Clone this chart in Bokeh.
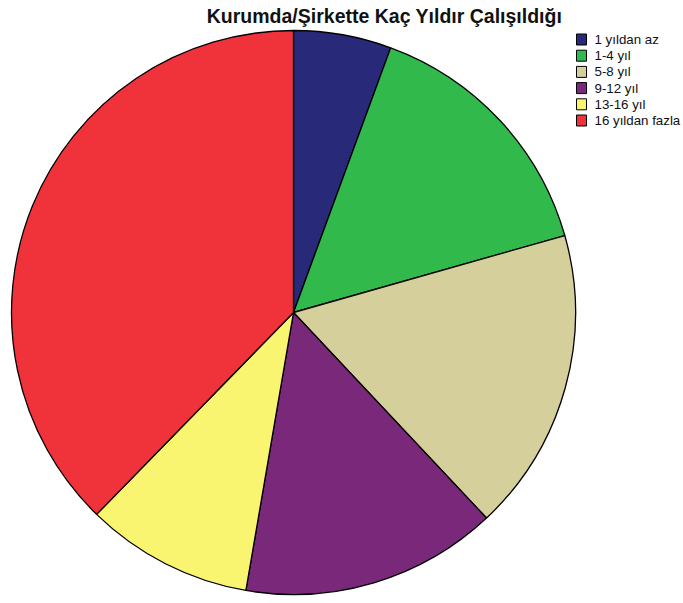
import math
from bokeh.plotting import figure
from bokeh.models import Range1d, ColumnDataSource
from bokeh.core.properties import value
from bokeh.embed import file_html
from bokeh.resources import INLINE

title = "Kurumda/Şirkette Kaç Yıldır Çalışıldığı"
categories = ["1 yıldan az", "1-4 yıl", "5-8 yıl", "9-12 yıl", "13-16 yıl", "16 yıldan fazla"]
percents = [5.6, 15.0, 17.4, 14.7, 9.6, 37.7]
colors = ["#29297a", "#31b94b", "#d4cf9b", "#7a287a", "#faf570", "#f0323a"]

W, H = 683, 603
cx, cy, R = 293, H - 312, 282

total = sum(percents)
starts, ends = [], []
acc = 0.0
for v in percents:
    a0 = acc / total * 2 * math.pi
    acc += v
    a1 = acc / total * 2 * math.pi
    starts.append(math.pi / 2 - a0)
    ends.append(math.pi / 2 - a1)

src = ColumnDataSource(dict(cat=categories, pct=percents, color=colors,
                            start=starts, end=ends))

p = figure(width=W, height=H, output_backend="svg", toolbar_location=None,
           x_range=Range1d(0, W), y_range=Range1d(0, H), min_border=0)
p.axis.visible = False
p.grid.visible = False
p.outline_line_color = None
p.background_fill_color = "white"

p.wedge(x=cx, y=cy, radius=R, start_angle="start", end_angle="end",
        direction="clock", fill_color="color", line_color="black",
        line_width=1.3, source=src)

p.text(x=[384], y=[H - 15], text=[title], text_font=value("Liberation Sans"),
       text_font_style="bold", text_font_size="19.5px", text_align="center",
       text_baseline="middle", text_color="#111111")

n = len(categories)
ly = [H - (39 + 16.2 * i) for i in range(n)]
p.rect(x=[581] * n, y=ly, width=10, height=11, fill_color=colors,
       line_color="black", line_width=1)
p.text(x=[594] * n, y=ly, text=categories, text_font=value("Liberation Sans"),
       text_font_size="13.3px", text_baseline="middle", text_color="#111111")

open("out.html", "w").write(file_html(p, INLINE))
